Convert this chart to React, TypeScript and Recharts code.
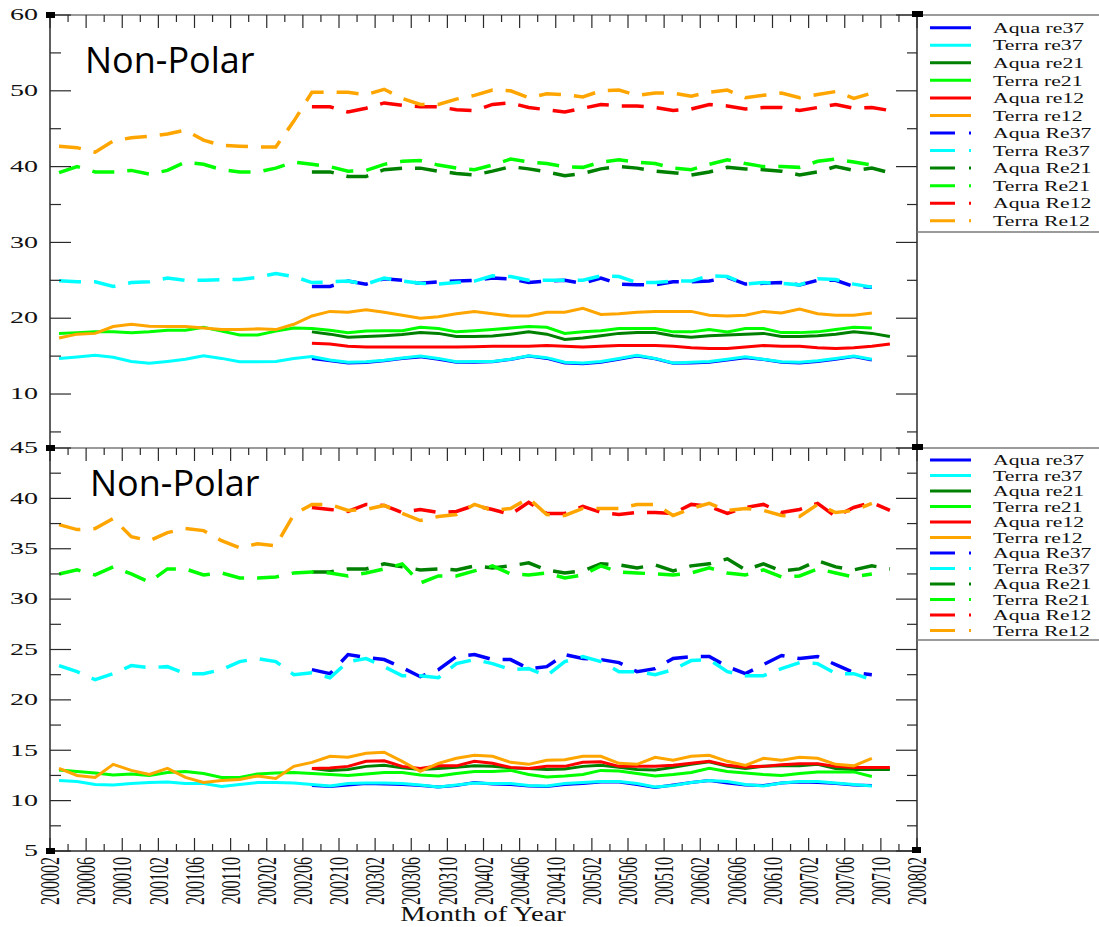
import React from 'react';
import { LineChart, Line, XAxis, YAxis } from 'recharts';

// ---------- categories / ticks ----------
const MONTHS = [1, 3, 5, 7, 9, 11, 13, 15, 17, 19, 21, 23, 25, 27, 29, 31, 33, 35, 37, 39, 41, 43, 45, 47, 49, 51, 53, 55, 57, 59, 61, 63, 65, 67, 69, 71, 73, 75, 77, 79, 81, 83, 85, 87, 89, 91, 93];
const TERRA_START = 1;
const AQUA_START = 29;
const STEP = 2;

const X_MAJOR = [0, 4, 8, 12, 16, 20, 24, 28, 32, 36, 40, 44, 48, 52, 56, 60, 64, 68, 72, 76, 80, 84, 88, 92, 96];
const X_MINOR = [2, 6, 10, 14, 18, 22, 26, 30, 34, 38, 42, 46, 50, 54, 58, 62, 66, 70, 74, 78, 82, 86, 90, 94];
const X_TICK_LABELS = ['200002', '200006', '200010', '200102', '200106', '200110', '200202', '200206', '200210', '200302', '200306', '200310', '200402', '200406', '200410', '200502', '200506', '200510', '200602', '200606', '200610', '200702', '200706', '200710', '200802'];

const TOP_Y_MAJOR = [10, 20, 30, 40, 50, 60];
const TOP_Y_MINOR = [5, 15, 25, 35, 45, 55];
const BOT_Y_MAJOR = [5, 10, 15, 20, 25, 30, 35, 40, 45];
const BOT_Y_MINOR = [7.5, 12.5, 17.5, 22.5, 27.5, 32.5, 37.5, 42.5];

// ---------- top panel values ----------
const topAquaRe37 = [14.7, 14.4, 14.1, 14.15, 14.4, 14.7, 14.9, 14.6, 14.2, 14.2, 14.25, 14.55, 15.0, 14.7, 14.1, 14.0, 14.2, 14.6, 15.0, 14.65, 14.05, 14.1, 14.2, 14.5, 14.8, 14.55, 14.2, 14.1, 14.3, 14.6, 14.95, 14.5];
const topTerraRe37 = [14.7, 14.9, 15.1, 14.85, 14.3, 14.05, 14.3, 14.6, 15.05, 14.7, 14.25, 14.25, 14.3, 14.7, 14.95, 14.5, 14.2, 14.25, 14.45, 14.75, 15.0, 14.7, 14.25, 14.3, 14.3, 14.6, 15.05, 14.8, 14.2, 14.1, 14.3, 14.7, 15.1, 14.7, 14.1, 14.2, 14.3, 14.6, 14.9, 14.6, 14.25, 14.2, 14.4, 14.7, 15.0, 14.6];
const topAquaRe21 = [18.2, 17.9, 17.5, 17.6, 17.7, 17.85, 18.1, 18.0, 17.6, 17.6, 17.65, 17.9, 18.2, 17.9, 17.2, 17.4, 17.7, 18.0, 18.1, 18.1, 17.7, 17.5, 17.7, 17.8, 17.9, 18.0, 17.6, 17.6, 17.7, 17.9, 18.2, 18.0, 17.6];
const topTerraRe21 = [18.0, 18.1, 18.2, 18.2, 18.1, 18.2, 18.4, 18.4, 18.8, 18.3, 17.8, 17.8, 18.3, 18.7, 18.65, 18.4, 18.1, 18.3, 18.35, 18.35, 18.8, 18.65, 18.2, 18.35, 18.5, 18.7, 18.9, 18.8, 18.0, 18.2, 18.35, 18.65, 18.65, 18.65, 18.2, 18.2, 18.5, 18.2, 18.65, 18.65, 18.1, 18.1, 18.2, 18.5, 18.8, 18.7];
const topAquaRe12 = [16.7, 16.6, 16.3, 16.2, 16.2, 16.2, 16.2, 16.2, 16.2, 16.25, 16.3, 16.3, 16.3, 16.4, 16.3, 16.2, 16.3, 16.4, 16.4, 16.4, 16.3, 16.1, 16.0, 16.0, 16.2, 16.4, 16.3, 16.3, 16.1, 16.0, 16.1, 16.3, 16.6];
const topTerraRe12 = [17.4, 17.9, 18.0, 18.9, 19.2, 18.95, 18.9, 18.9, 18.7, 18.5, 18.5, 18.6, 18.5, 19.2, 20.3, 20.9, 20.8, 21.1, 20.8, 20.4, 20.0, 20.2, 20.6, 20.9, 20.6, 20.3, 20.3, 20.8, 20.8, 21.3, 20.5, 20.6, 20.8, 20.9, 20.9, 20.9, 20.4, 20.3, 20.4, 20.9, 20.7, 21.2, 20.6, 20.4, 20.4, 20.7];
const topAquaRe37Big = [24.2, 24.2, 24.9, 24.5, 25.2, 25.0, 24.6, 24.8, 24.9, 25.0, 25.3, 25.2, 24.7, 24.9, 25.0, 24.6, 25.3, 24.5, 24.4, 24.4, 24.8, 24.8, 24.9, 25.4, 24.5, 24.6, 24.7, 24.4, 25.0, 25.0, 24.2, 24.1];
const topTerraRe37Big = [24.95, 24.8, 24.8, 24.2, 24.7, 24.8, 25.3, 25.0, 25.0, 25.1, 25.1, 25.4, 25.9, 25.5, 24.7, 24.8, 24.9, 24.5, 25.3, 24.9, 24.6, 24.5, 24.7, 24.9, 25.6, 25.5, 25.0, 25.0, 25.0, 25.0, 25.6, 25.5, 24.7, 24.7, 24.9, 24.9, 25.6, 25.5, 24.5, 24.7, 24.6, 24.4, 25.2, 25.1, 24.5, 24.1];
const topAquaRe21Big = [39.3, 39.3, 38.7, 38.7, 39.6, 39.8, 39.8, 39.4, 39.1, 38.9, 39.4, 40.0, 39.7, 39.3, 38.8, 39.1, 39.7, 40.0, 39.8, 39.4, 39.2, 38.9, 39.3, 39.9, 39.7, 39.6, 39.4, 38.9, 39.3, 40.0, 39.5, 39.8, 39.2];
const topTerraRe21Big = [39.2, 40.0, 39.3, 39.3, 39.5, 39.0, 39.5, 40.6, 40.3, 39.6, 39.3, 39.3, 39.8, 40.6, 40.3, 40.0, 39.4, 39.5, 40.3, 40.7, 40.8, 40.2, 39.8, 39.6, 40.2, 41.0, 40.6, 40.4, 40.0, 39.9, 40.6, 40.9, 40.6, 40.4, 39.8, 39.6, 40.3, 40.9, 40.4, 40.0, 40.0, 39.9, 40.7, 41.0, 40.6, 40.2];
const topAquaRe12Big = [47.9, 47.9, 47.2, 47.7, 48.4, 48.1, 47.9, 47.9, 47.5, 47.4, 48.2, 48.4, 47.8, 47.5, 47.2, 47.7, 48.2, 48.0, 48.0, 47.8, 47.4, 47.6, 48.2, 48.0, 47.6, 47.8, 47.8, 47.4, 47.8, 48.2, 47.7, 47.8, 47.4];
const topTerraRe12Big = [42.7, 42.5, 41.9, 43.4, 43.8, 44.0, 44.3, 44.8, 43.5, 42.8, 42.7, 42.6, 42.6, 46.0, 49.8, 49.8, 49.8, 49.5, 50.2, 49.0, 48.2, 48.2, 48.9, 49.4, 50.1, 50.0, 49.1, 49.6, 49.5, 49.2, 50.0, 50.1, 49.4, 49.7, 49.7, 49.3, 49.8, 50.1, 49.1, 49.4, 49.7, 49.1, 49.5, 49.9, 49.0, 49.7];

// ---------- bottom panel values ----------
const botAquaRe37 = [11.5, 11.4, 11.55, 11.7, 11.65, 11.6, 11.5, 11.35, 11.5, 11.8, 11.65, 11.6, 11.45, 11.4, 11.6, 11.7, 11.85, 11.85, 11.6, 11.3, 11.55, 11.8, 12.0, 11.75, 11.55, 11.5, 11.75, 11.85, 11.8, 11.7, 11.55, 11.5];
const botTerraRe37 = [12.0, 11.9, 11.6, 11.55, 11.7, 11.8, 11.85, 11.7, 11.7, 11.4, 11.6, 11.8, 11.8, 11.75, 11.6, 11.45, 11.7, 11.75, 11.75, 11.7, 11.55, 11.35, 11.55, 11.75, 11.7, 11.7, 11.5, 11.45, 11.7, 11.8, 11.9, 11.9, 11.7, 11.35, 11.5, 11.8, 12.0, 11.9, 11.6, 11.45, 11.75, 11.9, 11.9, 11.75, 11.6, 11.45];
const botAquaRe21 = [13.2, 13.0, 13.1, 13.4, 13.5, 13.25, 13.1, 13.2, 13.3, 13.45, 13.4, 13.25, 13.2, 13.1, 13.15, 13.4, 13.5, 13.3, 13.1, 13.05, 13.3, 13.6, 13.85, 13.4, 13.2, 13.4, 13.45, 13.45, 13.6, 13.2, 13.1, 13.1, 13.1];
const botTerraRe21 = [13.05, 12.9, 12.75, 12.55, 12.65, 12.5, 12.8, 12.9, 12.7, 12.3, 12.3, 12.65, 12.75, 12.8, 12.7, 12.6, 12.5, 12.65, 12.8, 12.8, 12.55, 12.45, 12.7, 12.9, 12.9, 13.0, 12.6, 12.35, 12.45, 12.6, 13.0, 12.95, 12.7, 12.45, 12.6, 12.8, 13.2, 12.9, 12.75, 12.6, 12.5, 12.7, 12.85, 12.85, 12.85, 12.4];
const botAquaRe12 = [13.2, 13.25, 13.4, 13.9, 13.95, 13.4, 13.2, 13.45, 13.45, 13.9, 13.7, 13.3, 13.2, 13.4, 13.4, 13.8, 13.85, 13.4, 13.4, 13.4, 13.5, 13.7, 13.9, 13.5, 13.35, 13.4, 13.55, 13.65, 13.65, 13.4, 13.3, 13.3, 13.3];
const botTerraRe12 = [13.2, 12.5, 12.3, 13.6, 13.0, 12.6, 13.2, 12.3, 11.8, 12.0, 12.1, 12.45, 12.2, 13.4, 13.8, 14.4, 14.3, 14.7, 14.8, 13.9, 12.9, 13.7, 14.2, 14.5, 14.4, 13.8, 13.6, 14.0, 14.05, 14.4, 14.4, 13.7, 13.6, 14.3, 14.0, 14.4, 14.5, 13.9, 13.5, 14.2, 14.0, 14.3, 14.2, 13.6, 13.45, 14.2];
const botAquaRe37Big = [23.0, 22.6, 24.5, 24.2, 24.0, 23.2, 22.3, 23.0, 24.3, 24.5, 24.0, 24.0, 23.1, 23.3, 24.5, 24.1, 24.0, 23.7, 22.8, 23.1, 24.1, 24.3, 24.3, 23.3, 22.6, 23.5, 24.4, 24.1, 24.3, 23.5, 22.7, 22.5];
const botTerraRe37Big = [23.4, 22.8, 22.0, 22.6, 23.4, 23.2, 23.3, 22.6, 22.6, 23.0, 23.8, 24.1, 23.8, 22.5, 22.7, 22.2, 23.8, 24.1, 23.3, 22.4, 22.4, 22.2, 23.6, 24.0, 23.6, 23.0, 23.1, 22.4, 23.8, 24.3, 23.8, 22.8, 22.8, 22.5, 23.0, 23.9, 24.0, 22.8, 22.4, 22.4, 23.1, 23.7, 23.6, 22.6, 22.6, 22.0];
const botAquaRe21Big = [32.7, 32.7, 33.0, 33.0, 33.5, 33.2, 32.9, 33.0, 32.9, 33.3, 33.1, 33.3, 33.6, 32.9, 32.6, 32.8, 33.5, 33.4, 33.1, 33.4, 32.8, 33.3, 33.5, 34.0, 32.9, 33.5, 32.8, 33.0, 33.8, 33.2, 32.9, 33.3, 33.0];
const botTerraRe21Big = [32.5, 32.9, 32.4, 33.2, 32.5, 31.7, 33.0, 33.0, 32.4, 32.6, 32.1, 32.1, 32.2, 32.6, 32.7, 32.6, 32.3, 32.6, 33.0, 33.5, 31.6, 32.3, 32.3, 32.8, 33.3, 32.5, 32.4, 32.6, 32.1, 32.4, 33.3, 32.7, 32.6, 32.5, 32.4, 32.6, 33.1, 32.6, 32.4, 32.9, 32.2, 32.3, 33.0, 32.6, 32.2, 32.5];
const botAquaRe12Big = [39.1, 38.9, 38.7, 39.4, 39.3, 38.6, 38.9, 38.6, 38.7, 39.3, 38.9, 38.4, 39.6, 38.5, 38.5, 39.2, 38.6, 38.4, 38.6, 38.6, 38.5, 39.4, 39.2, 38.5, 39.1, 39.4, 38.6, 38.9, 39.5, 38.2, 39.1, 39.6, 38.8];
const botTerraRe12Big = [37.4, 36.9, 37.0, 38.0, 36.2, 35.8, 36.6, 37.0, 36.8, 35.8, 35.1, 35.5, 35.3, 38.4, 39.4, 39.4, 38.8, 38.9, 39.3, 38.5, 37.8, 38.2, 38.4, 39.4, 38.8, 39.0, 40.0, 38.4, 38.3, 39.0, 39.0, 39.0, 39.4, 39.4, 38.3, 39.0, 39.5, 38.8, 39.0, 38.8, 38.3, 38.2, 39.4, 38.6, 38.8, 39.5];

// ---------- series styling ----------
const SERIES = [
  { key: 'aqua_re37', name: 'Aqua re37', color: '#0000ff', dash: false, terra: false },
  { key: 'terra_re37', name: 'Terra re37', color: '#00ffff', dash: false, terra: true },
  { key: 'aqua_re21', name: 'Aqua re21', color: '#008000', dash: false, terra: false },
  { key: 'terra_re21', name: 'Terra re21', color: '#00ff00', dash: false, terra: true },
  { key: 'aqua_re12', name: 'Aqua re12', color: '#ff0000', dash: false, terra: false },
  { key: 'terra_re12', name: 'Terra re12', color: '#ffa500', dash: false, terra: true },
  { key: 'aqua_Re37', name: 'Aqua Re37', color: '#0000ff', dash: true, terra: false },
  { key: 'terra_Re37', name: 'Terra Re37', color: '#00ffff', dash: true, terra: true },
  { key: 'aqua_Re21', name: 'Aqua Re21', color: '#008000', dash: true, terra: false },
  { key: 'terra_Re21', name: 'Terra Re21', color: '#00ff00', dash: true, terra: true },
  { key: 'aqua_Re12', name: 'Aqua Re12', color: '#ff0000', dash: true, terra: false },
  { key: 'terra_Re12', name: 'Terra Re12', color: '#ffa500', dash: true, terra: true },
];

const TOP_DATA: Record<string, number[]> = {
  aqua_re37: topAquaRe37, terra_re37: topTerraRe37, aqua_re21: topAquaRe21, terra_re21: topTerraRe21,
  aqua_re12: topAquaRe12, terra_re12: topTerraRe12, aqua_Re37: topAquaRe37Big, terra_Re37: topTerraRe37Big,
  aqua_Re21: topAquaRe21Big, terra_Re21: topTerraRe21Big, aqua_Re12: topAquaRe12Big, terra_Re12: topTerraRe12Big,
};
const BOT_DATA: Record<string, number[]> = {
  aqua_re37: botAquaRe37, terra_re37: botTerraRe37, aqua_re21: botAquaRe21, terra_re21: botTerraRe21,
  aqua_re12: botAquaRe12, terra_re12: botTerraRe12, aqua_Re37: botAquaRe37Big, terra_Re37: botTerraRe37Big,
  aqua_Re21: botAquaRe21Big, terra_Re21: botTerraRe21Big, aqua_Re12: botAquaRe12Big, terra_Re12: botTerraRe12Big,
};

function buildRows(data: Record<string, number[]>) {
  return MONTHS.map((m) => {
    const row: any = { m };
    SERIES.forEach((s) => {
      const start = s.terra ? TERRA_START : AQUA_START;
      const idx = (m - start) / STEP;
      const arr = data[s.key];
      row[s.key] = idx >= 0 && idx < arr.length ? arr[idx] : null;
    });
    return row;
  });
}

const topRows = buildRows(TOP_DATA);
const botRows = buildRows(BOT_DATA);

const SERIF = "'Liberation Serif', 'DejaVu Serif', serif";
const AXIS_DARK = '#2a2a2a';
const AXIS_GRAY = '#7a7a7a';

const makeLeftTick = (majors: number[]) => (props: any) => {
  const { x, y, payload } = props;
  const v = payload.value;
  const major = majors.includes(v);
  const len = major ? 21 : 11;
  return (
    <g>
      <line x1={x} x2={x + len} y1={y} y2={y} stroke={AXIS_DARK} strokeWidth={1.2} />
      {major && (
        <text transform={`translate(${x - 12},${y}) scale(1.75,1)`} textAnchor="end" dominantBaseline="central" fontFamily={SERIF} fontSize={16} fill="#111">
          {v}
        </text>
      )}
    </g>
  );
};

const makeRightTick = (majors: number[]) => (props: any) => {
  const { x, y, payload } = props;
  const major = majors.includes(payload.value);
  const len = major ? 21 : 10;
  return <line x1={x} x2={x - len} y1={y} y2={y} stroke={AXIS_DARK} strokeWidth={1.2} />;
};

const TopXTick = (props: any) => {
  const { x, y, payload } = props;
  const major = X_MAJOR.includes(payload.value);
  return <line x1={x} x2={x} y1={y} y2={y + (major ? 13 : 7)} stroke={AXIS_DARK} strokeWidth={1.2} />;
};

const BottomXTick = (props: any) => {
  const { x, y, payload } = props;
  const v = payload.value;
  const idx = X_MAJOR.indexOf(v);
  const major = idx >= 0;
  return (
    <g>
      <line x1={x} x2={x} y1={y} y2={y - (major ? 13 : 7)} stroke={AXIS_DARK} strokeWidth={1.2} />
      {major && (
        <text transform={`translate(${x},${y + 6}) scale(1.75,1) rotate(-90)`} textAnchor="end" dominantBaseline="central" fontFamily={SERIF} fontSize={16} fill="#111">
          {X_TICK_LABELS[idx]}
        </text>
      )}
    </g>
  );
};

const ALL_X = [...X_MAJOR, ...X_MINOR].sort((a, b) => a - b);

function renderLines() {
  return SERIES.map((s) => (
    <Line
      key={s.key}
      xAxisId="x"
      yAxisId="y"
      type="linear"
      dataKey={s.key}
      name={s.name}
      stroke={s.color}
      strokeWidth={s.dash ? 3.5 : 3}
      strokeDasharray={s.dash ? '22 13' : undefined}
      dot={false}
      activeDot={false}
      connectNulls={false}
      isAnimationActive={false}
    />
  ));
}

function Legend({ top, step }: { top: number; step: number }) {
  return (
    <g>
      {SERIES.map((s, i) => {
        const y = top + i * step;
        return (
          <g key={s.key}>
            <line x1={930} x2={971} y1={y} y2={y} stroke={s.color} strokeWidth={3} strokeDasharray={s.dash ? '25 14' : undefined} />
            <text transform={`translate(993,${y}) scale(1.45,1)`} dominantBaseline="central" fontFamily={SERIF} fontSize={15} fill="#111">
              {s.name}
            </text>
          </g>
        );
      })}
    </g>
  );
}

export default function App() {
  const topAllY = [...TOP_Y_MAJOR, ...TOP_Y_MINOR].sort((a, b) => a - b);
  const botAllY = [...BOT_Y_MAJOR, ...BOT_Y_MINOR].sort((a, b) => a - b);
  return (
    <div style={{ position: 'absolute', left: 0, top: 0, width: 1099, height: 927, background: '#fff', overflow: 'hidden' }}>
      <div style={{ position: 'absolute', left: 0, top: 0 }}>
        <LineChart width={1099} height={448} data={topRows} margin={{ top: 14, right: 181, bottom: 0, left: 0 }}>
          <XAxis xAxisId="x" dataKey="m" type="number" orientation="top" height={1} domain={[0, 96]} allowDataOverflow ticks={ALL_X} interval={0} tickLine={false} tickSize={0} tickMargin={0} tick={TopXTick} axisLine={{ stroke: AXIS_GRAY, strokeWidth: 1.5 }} />
          <YAxis yAxisId="y" type="number" orientation="left" width={50} domain={[2.88, 60]} allowDataOverflow ticks={topAllY} interval={0} tickLine={false} tickSize={0} tickMargin={0} tick={makeLeftTick(TOP_Y_MAJOR)} axisLine={{ stroke: AXIS_DARK, strokeWidth: 1.5 }} />
          <YAxis yAxisId="yr" type="number" orientation="right" width={1} domain={[2.88, 60]} allowDataOverflow ticks={topAllY} interval={0} tickLine={false} tickSize={0} tickMargin={0} tick={makeRightTick(TOP_Y_MAJOR)} axisLine={{ stroke: AXIS_DARK, strokeWidth: 1.5 }} />
          {renderLines()}
        </LineChart>
      </div>
      <div style={{ position: 'absolute', left: 0, top: 430 }}>
        <LineChart width={1099} height={497} data={botRows} margin={{ top: 17, right: 181, bottom: 0, left: 0 }}>
          <XAxis xAxisId="x" dataKey="m" type="number" orientation="bottom" height={76} domain={[0, 96]} allowDataOverflow ticks={ALL_X} interval={0} tickLine={false} tickSize={0} tickMargin={0} tick={BottomXTick} axisLine={{ stroke: AXIS_DARK, strokeWidth: 1.5 }} />
          <XAxis xAxisId="xt" dataKey="m" type="number" orientation="top" height={1} domain={[0, 96]} allowDataOverflow ticks={ALL_X} interval={0} tickLine={false} tickSize={0} tickMargin={0} tick={TopXTick} axisLine={{ stroke: AXIS_GRAY, strokeWidth: 1.5 }} />
          <YAxis yAxisId="y" type="number" orientation="left" width={50} domain={[5, 45]} allowDataOverflow ticks={botAllY} interval={0} tickLine={false} tickSize={0} tickMargin={0} tick={makeLeftTick(BOT_Y_MAJOR)} axisLine={{ stroke: AXIS_DARK, strokeWidth: 1.5 }} />
          <YAxis yAxisId="yr" type="number" orientation="right" width={1} domain={[5, 45]} allowDataOverflow ticks={botAllY} interval={0} tickLine={false} tickSize={0} tickMargin={0} tick={makeRightTick(BOT_Y_MAJOR)} axisLine={{ stroke: AXIS_DARK, strokeWidth: 1.5 }} />
          {renderLines()}
        </LineChart>
      </div>
      <svg width={1099} height={927} style={{ position: 'absolute', left: 0, top: 0, pointerEvents: 'none' }}>
        {/* legend frame lines */}
        <line x1={917} x2={1099} y1={15} y2={15} stroke={AXIS_GRAY} strokeWidth={1.5} />
        <line x1={917} x2={1099} y1={232} y2={232} stroke={AXIS_GRAY} strokeWidth={1.5} />
        <line x1={917} x2={1099} y1={448} y2={448} stroke={AXIS_GRAY} strokeWidth={1.5} />
        <line x1={917} x2={1099} y1={640} y2={640} stroke={AXIS_GRAY} strokeWidth={1.5} />
        <Legend top={27.7} step={17.55} />
        <Legend top={460} step={15.5} />
        {/* corner markers */}
        <rect x={46} y={12} width={9} height={6} fill="#000" />
        <rect x={912} y={11} width={11} height={6} fill="#000" />
        <rect x={46} y={445} width={9} height={6} fill="#000" />
        <rect x={912} y={444} width={11} height={6} fill="#000" />
        <rect x={46} y={848} width={9} height={6} fill="#000" />
        <rect x={912} y={847} width={9} height={6} fill="#000" />
        {/* panel titles */}
        <text x={85} y={73} fontFamily="'Open Sans', 'Noto Sans', sans-serif" fontSize={36} fill="#000">Non-Polar</text>
        <text x={90} y={496} fontFamily="'Open Sans', 'Noto Sans', sans-serif" fontSize={36} fill="#000">Non-Polar</text>
        {/* x axis title */}
        <text transform="translate(483,921) scale(1.36,1)" textAnchor="middle" fontFamily={SERIF} fontSize={21} fill="#111">Month of Year</text>
      </svg>
    </div>
  );
}
